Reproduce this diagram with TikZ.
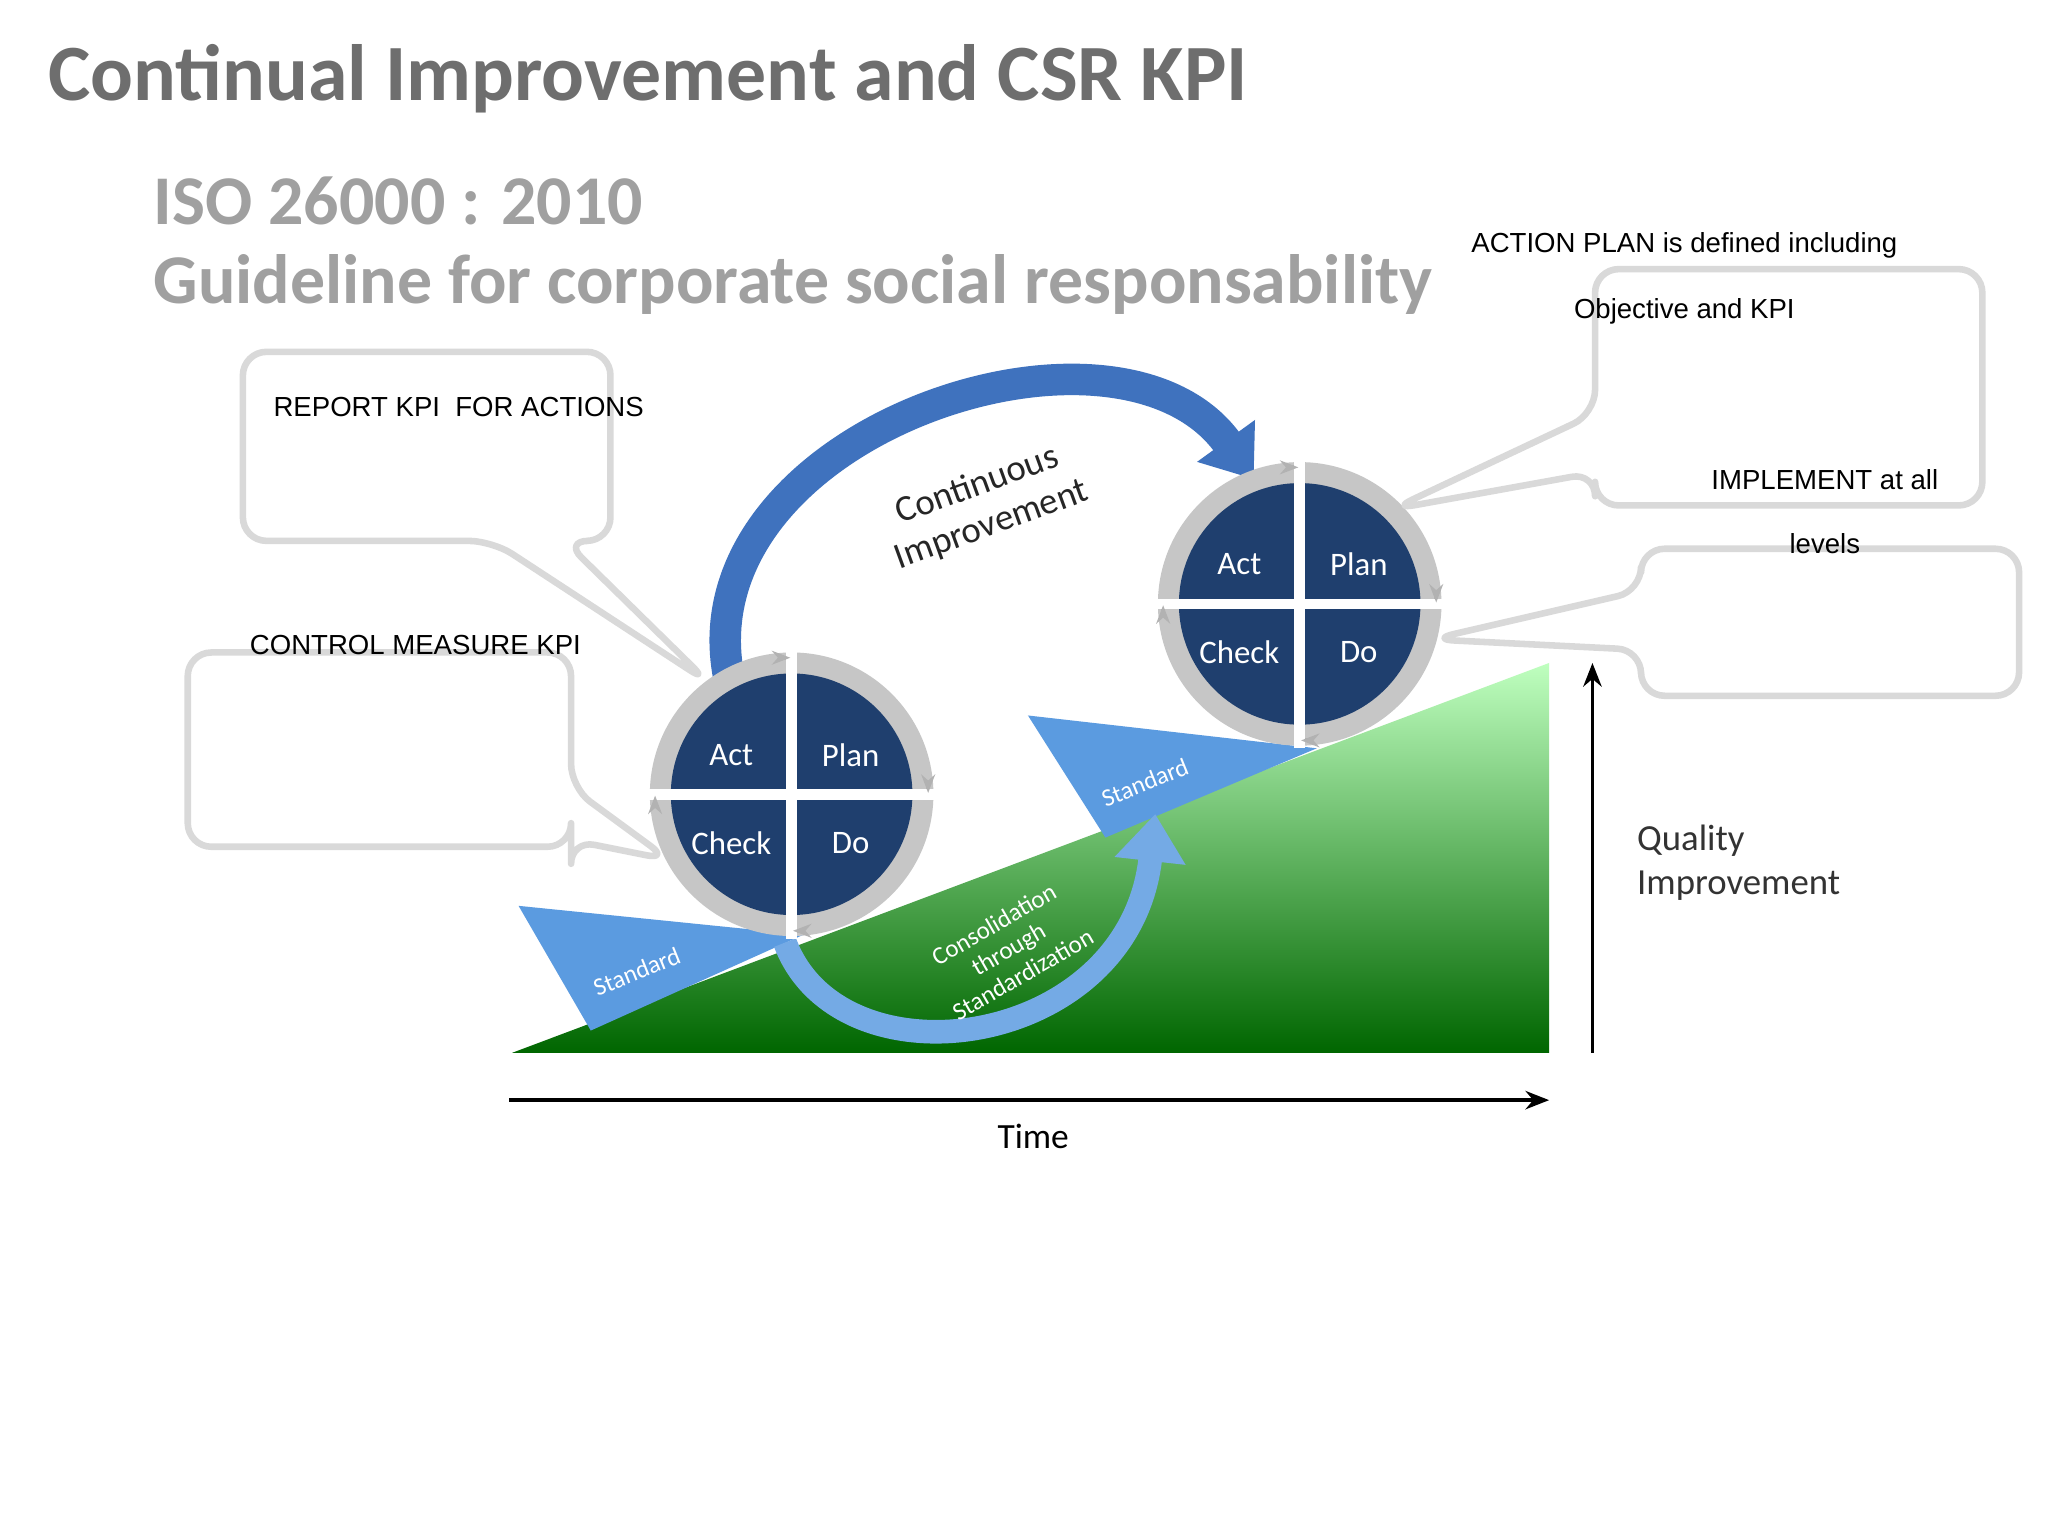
\documentclass[tikz,border=0pt]{standalone}
\usepackage{fontspec}
\setmainfont{Carlito}
\newfontfamily\arialf{Liberation Sans}
\usetikzlibrary{arrows.meta}
\definecolor{pdblue}{HTML}{1F3F6E}
\definecolor{wblue}{HTML}{5B9BE0}
\definecolor{abblue}{HTML}{3F72BE}
\definecolor{titlegray}{HTML}{6E6E6E}
\definecolor{subgray}{HTML}{A0A0A0}
\tikzset{x=0.5pt,y=-0.5pt,
 callout/.style={draw=gray!30,line width=2.5pt,rounded corners=9pt,line join=round},
 ctext/.style={font=\arialf\fontsize{10.5}{12}\selectfont,inner sep=0},
 pd/.style={font=\fontsize{12.5}{14}\selectfont,text=white},
 axis/.style={line width=1.3pt,-{Stealth[length=9pt,width=7pt]}},
 bigarrow/.style={abblue,line width=12pt,-{Triangle[length=18pt,width=26pt]}}}
\newcommand{\pdca}[3]{%
 \fill[gray!45] (#1,#2) circle[radius=108];
 \fill[pdblue] (#1,#2) circle[radius=92];
 \draw[white,line width=4pt] (#1-110,#2)--(#1+110,#2) (#1,#2-110)--(#1,#2+110);
 \draw[gray!60,line width=1.5pt,-{Stealth[length=7pt]}] (#1-4,#2-104)--(#1-1,#2-104);
 \draw[gray!60,line width=1.5pt,-{Stealth[length=7pt]}] (#1+104,#2-4)--(#1+104,#2-1);
 \draw[gray!60,line width=1.5pt,-{Stealth[length=7pt]}] (#1+4,#2+104)--(#1+1,#2+104);
 \draw[gray!60,line width=1.5pt,-{Stealth[length=7pt]}] (#1-104,#2+4)--(#1-104,#2+1);
 \node[pd] (#3act) at (#1-46,#2-30) {Act};
 \node[pd] (#3plan) at (#1+45,#2-30) {Plan};
 \node[pd] (#3check) at (#1-46,#2+37) {Check};
 \node[pd] (#3do) at (#1+45,#2+37) {Do};}
\begin{document}
\begin{tikzpicture}
\useasboundingbox (0,0) rectangle (1560,1170);
\fill[white] (0,0) rectangle (1560,1170);
% titles
\node[anchor=west,text=titlegray,font=\bfseries\fontsize{30.4}{35}\selectfont] (title) at (30,60) {Continual Improvement and CSR KPI};
\node[anchor=west,text=subgray,font=\bfseries\fontsize{26.6}{30}\selectfont] (iso) at (110,153) {ISO 26000 : 2010};
\node[anchor=west,text=subgray,font=\bfseries\fontsize{26.6}{30}\selectfont] (guide) at (110,217) {Guideline for corporate social responsability};
% green triangle
\shade[top color=green!25!white,bottom color=green!40!black] (390,802)--(1180,802)--(1180,505)--cycle;
% standard wedges
\fill[wblue] (395,690)--(612,712)--(450,785)--cycle;
\node[text=white,rotate=22,font=\fontsize{9.5}{11}\selectfont] (std1) at (485,740) {Standard};
\fill[wblue] (783,545)--(1003,570)--(842,638)--cycle;
\node[text=white,rotate=22,font=\fontsize{9.5}{11}\selectfont] (std2) at (872,596) {Standard};
% consolidation arrow
\coordinate (c1) at (598,718);
\coordinate (c2) at (880,620);
\draw[bigarrow,line width=9pt,wblue!85] (c1) .. controls (640,830) and (860,800) .. (c2);
\node[text=white,rotate=30,align=center,font=\fontsize{9.5}{11}\selectfont] (cons) at (768,723) {Consolidation\\through\\Standardization};
% big continuous improvement arrow
\coordinate (a1) at (555,515);
\coordinate (a2) at (955,365);
\draw[bigarrow] (a1) .. controls (520,330) and (850,220) .. (a2);
\node[rotate=20,align=center,text=black!85,font=\fontsize{14}{16}\selectfont] (ci) at (750,385) {Continuous\\Improvement};
% PDCA circles
\pdca{603}{605}{p}
\pdca{990}{460}{q}
% axes
\coordinate (t0) at (388,838); \coordinate (t1) at (1180,838);
\draw[axis] (t0)--(t1);
\node[font=\fontsize{13.5}{16}\selectfont] (time) at (787,866) {Time};
\coordinate (v0) at (1213,802); \coordinate (v1) at (1213,505);
\draw[axis] (v0)--(v1);
\node[anchor=west,align=left,text=black!80,font=\fontsize{14}{17}\selectfont] (qi) at (1240,657) {Quality\\Improvement};
% callouts
\draw[callout] (375,412)--(540,520)--(430,412)--(465,412)--(465,268)--(185,268)--(185,412)--cycle;
\node[ctext,anchor=west] (r) at (208,310) {REPORT KPI\ \ FOR ACTIONS};
\draw[callout] (435,600)--(510,655)--(435,640)--(435,645)--(143,645)--(143,497)--(435,497)--cycle;
\node[ctext,anchor=west] (c) at (190,491) {CONTROL MEASURE KPI};
\draw[callout] (1215,315)--(1060,388)--(1215,360)--(1215,385)--(1510,385)--(1510,205)--(1215,205)--cycle;
\node[ctext] (ap1) at (1283,187) {ACTION PLAN is defined including};
\node[ctext] (ap2) at (1283,237) {Objective and KPI};
\draw[callout] (1250,450)--(1090,487)--(1250,495)--(1250,530)--(1538,530)--(1538,418)--(1250,418)--cycle;
\node[ctext] (im1) at (1390,365) {IMPLEMENT at all};
\node[ctext] (im2) at (1390,414) {levels};
\end{tikzpicture}
\end{document}
